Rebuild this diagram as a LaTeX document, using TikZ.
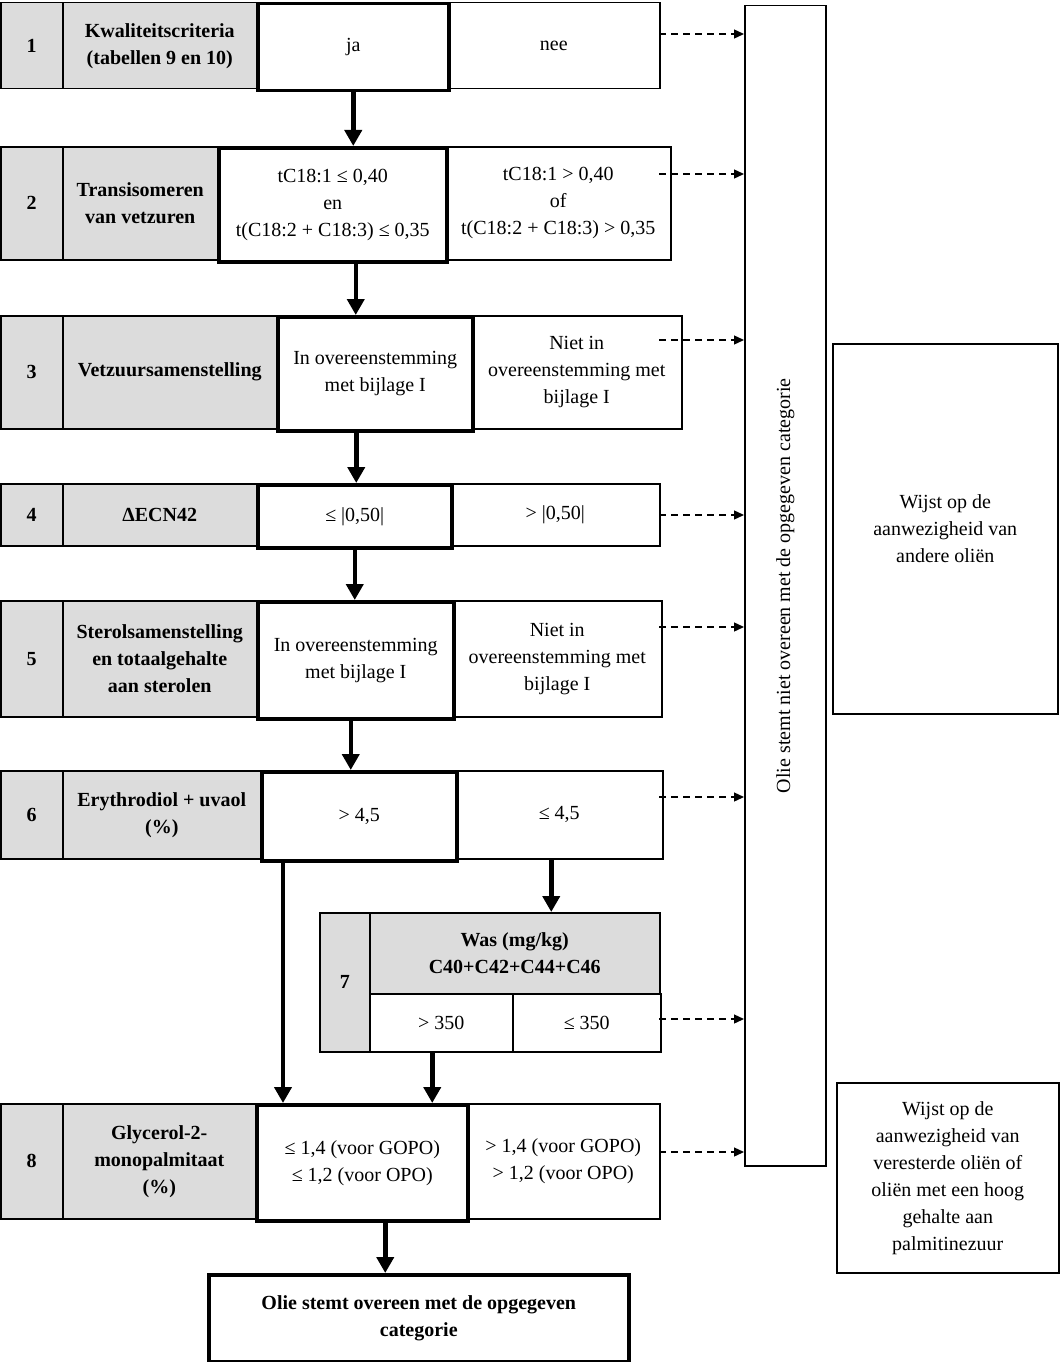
\documentclass[tikz,border=0pt]{standalone}
\usepackage{fontspec}
\setmainfont{Liberation Serif}
\usetikzlibrary{arrows.meta,calc}
\definecolor{cellgrey}{RGB}{220,220,220}
\newcommand\diagfont{\fontsize{20}{27}\selectfont}
\tikzset{
  cellsize/.style 2 args={minimum width=#1pt, minimum height=#2pt},
  numcell/.style={rectangle, draw=black, line width=1.5pt, fill=cellgrey, anchor=north west,
    inner sep=2pt, align=center, font=\diagfont\bfseries},
  passcell/.style={rectangle, draw=black, line width=3.5pt, fill=white, anchor=north west,
    inner sep=2pt, align=center, font=\diagfont},
  failcell/.style={passcell, line width=1.5pt},
  flowarrow/.style={-{Triangle[length=16pt,width=17pt]}, line width=4.5pt},
  nogoarrow/.style={-{Triangle[length=10pt,width=9pt]}, line width=1.3pt, dash pattern=on 7pt off 5pt}
}

\begin{document}
\begin{tikzpicture}[x=1pt, y=-1pt]
  \useasboundingbox (0,0) rectangle (1060,1362);
  % rows 1-6
  \node[numcell, cellsize={62}{86}] (num1) at (0,2) {1};
  \node[numcell, cellsize={194}{86}] (crit1) at (62,2) {Kwaliteitscriteria\\(tabellen 9 en 10)};
  \node[failcell, cellsize={212}{86}] (no1) at (447,2) {nee};
  \node[passcell, cellsize={191}{87}] (yes1) at (256,2) {ja};

  \node[numcell, cellsize={62}{113}] (num2) at (0,146) {2};
  \node[numcell, cellsize={155}{113}] (crit2) at (62,146) {Transisomeren\\van vetzuren};
  \node[failcell, cellsize={225}{113}] (no2) at (445,146) {tC18:1 > 0,40\\of\\t(C18:2 + C18:3) > 0,35};
  \node[passcell, cellsize={228}{114}] (yes2) at (217,146) {tC18:1 ≤ 0,40\\en\\t(C18:2 + C18:3) ≤ 0,35};

  \node[numcell, cellsize={62}{113}] (num3) at (0,315) {3};
  \node[numcell, cellsize={214}{113}] (crit3) at (62,315) {Vetzuursamenstelling};
  \node[failcell, cellsize={210}{113}] (no3) at (471,315) {Niet in\\overeenstemming met\\bijlage I};
  \node[passcell, cellsize={195}{114}] (yes3) at (276,315) {In overeenstemming\\met bijlage I};

  \node[numcell, cellsize={62}{62}] (num4) at (0,483) {4};
  \node[numcell, cellsize={194}{62}] (crit4) at (62,483) {ΔECN42};
  \node[failcell, cellsize={209}{62}] (no4) at (450,483) {> |0,50|};
  \node[passcell, cellsize={194}{63}] (yes4) at (256,483) {≤ |0,50|};

  \node[numcell, cellsize={62}{116}] (num5) at (0,600) {5};
  \node[numcell, cellsize={194}{116}] (crit5) at (62,600) {Sterolsamenstelling\\en totaalgehalte\\aan sterolen};
  \node[failcell, cellsize={209}{116}] (no5) at (452,600) {Niet in\\overeenstemming met\\bijlage I};
  \node[passcell, cellsize={196}{117}] (yes5) at (256,600) {In overeenstemming\\met bijlage I};

  \node[numcell, cellsize={62}{88}] (num6) at (0,770) {6};
  \node[numcell, cellsize={198}{88}] (crit6) at (62,770) {Erythrodiol + uvaol\\(\%)};
  \node[failcell, cellsize={207}{88}] (no6) at (455,770) {≤ 4,5};
  \node[passcell, cellsize={195}{89}] (yes6) at (260,770) {> 4,5};

  % row 7
  \node[numcell, cellsize={50}{139}] (num7) at (319,912) {7};
  \node[numcell, cellsize={290}{81}] (head7) at (369,912) {Was (mg/kg)\\C40+C42+C44+C46};
  \node[failcell, cellsize={143}{58}] (gt7) at (369,993) {> 350};
  \node[failcell, cellsize={148}{58}] (le7) at (512,993) {≤ 350};

  % row 8
  \node[numcell, cellsize={62}{115}] (num8) at (0,1103) {8};
  \node[numcell, cellsize={193}{115}] (crit8) at (62,1103) {Glycerol-2-\\monopalmitaat\\(\%)};
  \node[failcell, cellsize={193}{115}] (no8) at (466,1103) {> 1,4 (voor GOPO)\\> 1,2 (voor OPO)};
  \node[passcell, cellsize={211}{116}] (yes8) at (255,1103) {≤ 1,4 (voor GOPO)\\≤ 1,2 (voor OPO)};

  \node[passcell, cellsize={420}{87}, font=\diagfont\bfseries] (final) at (207,1273)
    {Olie stemt overeen met de opgegeven\\categorie};

  % right column
  \node[failcell, cellsize={81}{1160}] (vbox) at (744,5) {};
  \node[rotate=90, font=\diagfont] (vtext) at (vbox.center) {Olie stemt niet overeen met de opgegeven categorie};
  \node[failcell, cellsize={225}{370}] (hint1) at (832,343) {Wijst op de\\aanwezigheid van\\andere oliën};
  \node[failcell, cellsize={222}{190}] (hint2) at (836,1082)
    {Wijst op de\\aanwezigheid van\\veresterde oliën of\\oliën met een hoog\\gehalte aan\\palmitinezuur};

  \draw[flowarrow] (yes1.south) -- (yes1.south |- yes2.north);
  \draw[flowarrow] ($(yes2.south)+(23,0)$) coordinate (a2) -- (a2 |- yes3.north);
  \draw[flowarrow] ($(yes3.south)+(-19,0)$) coordinate (a3) -- (a3 |- yes4.north);
  \draw[flowarrow] (yes4.south) -- (yes4.south |- yes5.north);
  \draw[flowarrow] ($(yes5.south)+(-5,0)$) coordinate (a5) -- (a5 |- yes6.north);
  \draw[flowarrow] ($(yes6.south west)+(23,0)$) coordinate (a6) -- (a6 |- yes8.north);
  \draw[flowarrow] ($(no6.south)+(-8,0)$) coordinate (b6) -- (b6 |- head7.north);
  \draw[flowarrow] ($(gt7.south)+(-9,0)$) coordinate (a7) -- (a7 |- yes8.north);
  \draw[flowarrow] ($(yes8.south)+(23,0)$) coordinate (a8) -- (a8 |- final.north);

  \foreach \cell/\dy in {no1/32, no2/28, no3/25, no4/32, no5/27, no6/27, le7/26, no8/49}
    \draw[nogoarrow] ($(vbox.west |- \cell.north)+(-85,\dy)$) -- ($(vbox.west |- \cell.north)+(0,\dy)$);
\end{tikzpicture}
\end{document}
